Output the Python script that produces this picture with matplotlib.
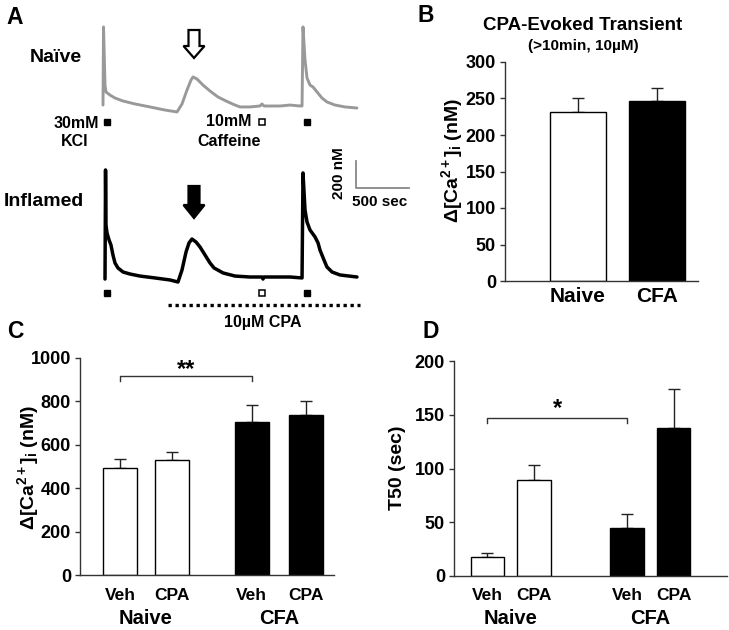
import matplotlib
matplotlib.use("Agg")
import matplotlib.pyplot as plt
from matplotlib.patches import Polygon
from matplotlib.transforms import Affine2D
import numpy as np

plt.rcParams['font.family'] = ['Liberation Sans', 'DejaVu Sans']
plt.rcParams['font.weight'] = 'bold'
plt.rcParams['mathtext.fontset'] = 'custom'
plt.rcParams['mathtext.rm'] = 'Liberation Sans:bold'
plt.rcParams['mathtext.it'] = 'Liberation Sans:bold'
plt.rcParams['mathtext.bf'] = 'Liberation Sans:bold'

# ---------------- data ----------------
# Panel A traces (time in s, [Ca2+]i in nM)
naive_t = [0, 5, 19, 28, 66, 113, 189, 302, 443, 585, 698, 745, 792, 830, 849, 886, 943,
           1009, 1084, 1160, 1245, 1292, 1386, 1480, 1499, 1518, 1669, 1763, 1858, 1877,
           1886, 1905, 1924, 1952, 1980, 2018, 2065, 2112, 2188, 2282, 2395]
naive_c = [107, 685, 255, 204, 181, 159, 137, 115, 93, 70, 56, 115, 218, 292, 315, 300, 255,
           211, 167, 137, 107, 93, 93, 100, 115, 100, 100, 107, 100, 100,
           685, 440, 307, 255, 241, 204, 159, 130, 107, 93, 85]
infl_t = [19, 24, 28, 38, 57, 75, 94, 113, 141, 189, 255, 349, 490, 632, 707, 745, 783, 811,
          839, 877, 915, 962, 1009, 1047, 1132, 1245, 1386, 1499, 1509, 1518, 1763, 1877,
          1886, 1905, 1924, 1952, 2000, 2028, 2046, 2084, 2112, 2160, 2235, 2395]
infl_c = [85, 892, 485, 426, 374, 337, 263, 204, 167, 137, 122, 107, 93, 78, 63, 152, 285, 352,
          381, 359, 322, 263, 204, 167, 130, 107, 100, 100, 85, 100, 100, 93,
          870, 596, 507, 448, 396, 352, 300, 226, 174, 137, 115, 100]
kcl_times = [40, 1924]
caffeine_times = [1500]
cpa_window = [613, 2424]

# Panel B
b_groups = ["Naive", "CFA"]
b_means = [231, 247]
b_errs = [20, 18]

# Panel C
c_sub = ["Veh", "CPA", "Veh", "CPA"]
c_groups = ["Naive", "CFA"]
c_means = [493, 528, 703, 738]
c_errs = [41, 41, 82, 65]

# Panel D
d_sub = ["Veh", "CPA", "Veh", "CPA"]
d_groups = ["Naive", "CFA"]
d_means = [17.7, 89, 44.7, 138]
d_errs = [3.7, 14.6, 13.3, 36]

# ---------------- figure ----------------
W, H = 729, 630
fig = plt.figure(figsize=(W / 100, H / 100), dpi=100)
pix = Affine2D().scale(1 / W, -1 / H).translate(0, 1) + fig.transFigure


def rect(x0, y0, x1, y1):
    return [x0 / W, 1 - y1 / H, (x1 - x0) / W, (y1 - y0) / H]


def ftext(x, y, s, **kw):
    kw.setdefault('ha', 'center')
    kw.setdefault('va', 'center')
    kw.setdefault('fontweight', 'bold')
    fig.text(x / W, 1 - y / H, s, **kw)


# Panel letters
for lab, (x, y) in {"A": (15, 17), "B": (426, 15), "C": (15, 332), "D": (431, 332)}.items():
    ftext(x, y, lab, fontsize=16.5)

# ---------------- Panel A ----------------
xl = (-75.4, 2942.2)
axN = fig.add_axes(rect(95, 15, 415, 150))
axN.set_xlim(*xl); axN.set_ylim(-225.6, 773.4); axN.axis('off')
axI = fig.add_axes(rect(95, 150, 415, 330))
axI.set_xlim(*xl); axI.set_ylim(-292.2, 1039.8); axI.axis('off')

axN.plot(naive_t, naive_c, color='#999999', lw=2.1, solid_joinstyle='round',
         solid_capstyle='round', clip_on=False)
axI.plot(infl_t, infl_c, color='black', lw=2.5, solid_joinstyle='round',
         solid_capstyle='round', clip_on=False)

for ax in (axN, axI):
    ax.plot(kcl_times, [-18] * len(kcl_times), 's', color='black', ms=5, clip_on=False)
    ax.plot(caffeine_times, [-18] * len(caffeine_times), 's', mfc='white', mec='black',
            mew=1.1, ms=4.8, clip_on=False)
axI.plot(cpa_window, [-107, -107], color='black', lw=2.4, ls=(0, (1, 1.1)), clip_on=False)

# scale bar
axI.plot([2386, 2386, 2886], [959, 759, 759], color='#888888', lw=1.3, clip_on=False)
ftext(339, 173, "200 nM", fontsize=11, rotation=90)
ftext(380, 202, "500 sec", fontsize=11)

ftext(56, 57, "Naïve", fontsize=14)
ftext(44, 202, "Inflamed", fontsize=14)
ftext(76, 123, "30mM", fontsize=11.5)
ftext(75, 142, "KCl", fontsize=11.5)
ftext(229, 122, "10mM", fontsize=11.5)
ftext(229, 141, "Caffeine", fontsize=11.5)
ftext(263, 323, "10µM CPA", fontsize=11.5)


def arrow(cx, top, hs, tip, fc):
    pts = [(cx - 5.5, top), (cx + 5.5, top), (cx + 5.5, hs), (cx + 10.5, hs), (cx, tip),
           (cx - 10.5, hs), (cx - 5.5, hs)]
    fig.add_artist(Polygon(pts, closed=True, transform=pix, facecolor=fc,
                           edgecolor='black', lw=1.6))


arrow(194, 30, 46, 58, 'white')
arrow(194, 186, 205, 218, 'black')

# ---------------- bar panels ----------------
SP = '#333333'


def style_bar_axes(ax, ylim, yticks):
    ax.set_ylim(*ylim)
    ax.set_yticks(yticks)
    ax.set_yticklabels([str(v) for v in yticks], fontsize=13, fontweight='bold')
    for s in ('top', 'right'):
        ax.spines[s].set_visible(False)
    for s in ('left', 'bottom'):
        ax.spines[s].set_color(SP)
        ax.spines[s].set_linewidth(1.0)
    ax.tick_params(axis='y', direction='out', length=3.5, width=1, color=SP, pad=3)
    ax.tick_params(axis='x', length=0)
    ax.set_xticks([])
    ax.patch.set_alpha(0)


def draw_bars(ax, pos, means, errs, colors, width):
    ax.bar(pos, means, width=width, color=colors, edgecolor='black', linewidth=1.0, zorder=2)
    ax.errorbar(pos, means, yerr=[np.zeros(len(errs)), errs], fmt='none', ecolor='#222222',
                elinewidth=1.0, capsize=4, capthick=1.0, zorder=1)


def under_label(ax, x, text, off, fs):
    ax.annotate(text, xy=(x, 0), xycoords=('data', 'axes fraction'), xytext=(0, -off),
                textcoords='offset pixels', ha='center', va='center', fontsize=fs,
                fontweight='bold', annotation_clip=False)


def bracket(ax, x0, x1, y, drop, stars, star_off):
    ax.plot([x0, x0, x1, x1], [y - drop, y, y, y - drop], color='#333333', lw=1.0, clip_on=False)
    ax.annotate(stars, xy=((x0 + x1) / 2, y), xytext=(0, star_off), textcoords='offset pixels',
                ha='center', va='center', fontsize=17, fontweight='bold', annotation_clip=False)


YLAB = r"$\Delta$[Ca$^{2+}$]$_i$ (nM)"

# Panel B
axB = fig.add_axes(rect(505, 62, 698, 281))
posB = [1, 2]
axB.set_xlim(0.076, 0.076 + 193 / 79)
draw_bars(axB, posB, b_means, b_errs, ['white', 'black'], 0.72)
style_bar_axes(axB, (0, 300), [0, 50, 100, 150, 200, 250, 300])
for p, g in zip(posB, b_groups):
    under_label(axB, p, g, 16, 15)
ftext(583, 25, "CPA-Evoked Transient", fontsize=13.5)
ftext(583, 46, "(>10min, 10µM)", fontsize=11)
ftext(452, 160, YLAB, fontsize=14, rotation=90)

# Panel C
axC = fig.add_axes(rect(80, 358, 334, 575))
posC = [1, 2, 3.55, 4.6]
axC.set_xlim(0.223, 5.14)
draw_bars(axC, posC, c_means, c_errs, ['white', 'white', 'black', 'black'], 0.66)
style_bar_axes(axC, (0, 1000), [0, 200, 400, 600, 800, 1000])
for p, s in zip(posC, c_sub):
    under_label(axC, p, s, 20, 12.5)
under_label(axC, (posC[0] + posC[1]) / 2, c_groups[0], 43, 14.5)
under_label(axC, (posC[2] + posC[3]) / 2, c_groups[1], 43, 14.5)
bracket(axC, posC[0], posC[2], 917, 23, "**", 6)
ftext(28, 467, YLAB, fontsize=14, rotation=90)

# Panel D
axD = fig.add_axes(rect(454, 361, 727, 576))
posD = [1, 2, 4, 5]
axD.set_xlim(0.28, 6.15)
draw_bars(axD, posD, d_means, d_errs, ['white', 'white', 'black', 'black'], 0.71)
style_bar_axes(axD, (0, 200), [0, 50, 100, 150, 200])
for p, s in zip(posD, d_sub):
    under_label(axD, p, s, 20, 12.5)
under_label(axD, (posD[0] + posD[1]) / 2, d_groups[0], 43, 14.5)
under_label(axD, (posD[2] + posD[3]) / 2, d_groups[1], 43, 14.5)
bracket(axD, posD[0], posD[2], 147, 5, "*", 9)
ftext(397, 468, "T50 (sec)", fontsize=14, rotation=90)

fig.savefig("out.png", dpi=100)
